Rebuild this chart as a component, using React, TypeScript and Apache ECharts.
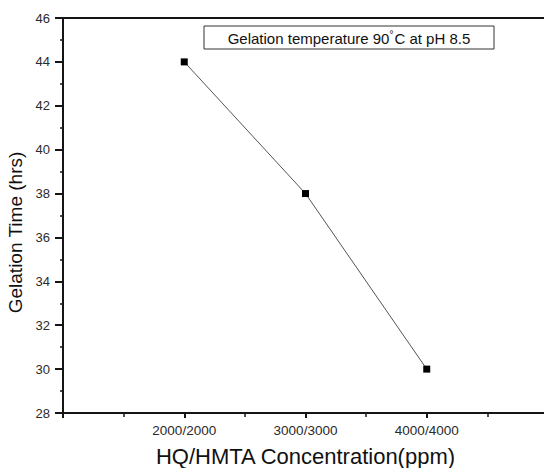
import React, { useEffect, useRef } from "react";
import * as echarts from "echarts";

const hq = [2000, 3000, 4000];
const gelationTime = [44, 38, 30];
const xLabeled = [2000, 3000, 4000];

export default function App() {
  const ref = useRef<HTMLDivElement>(null);
  useEffect(() => {
    if (!ref.current) return;
    const chart = echarts.init(ref.current, null, { renderer: "svg" });
    const font = "'Liberation Sans', Arial, sans-serif";
    chart.setOption({
      animation: false,
      backgroundColor: "#fff",
      grid: {
        left: 63,
        top: 18,
        right: -4,
        bottom: 55,
        containLabel: false,
        outerBoundsMode: "none",
        show: true,
        borderColor: "#151515",
        borderWidth: 2,
      },
      xAxis: {
        type: "value",
        min: 1000,
        max: 5000,
        interval: 1000,
        name: "HQ/HMTA Concentration(ppm)",
        nameLocation: "middle",
        nameGap: 32,
        nameTextStyle: { fontFamily: font, fontSize: 22, color: "#111" },
        axisLine: { show: true, onZero: false, lineStyle: { color: "#151515", width: 2 } },
        axisTick: { show: true, inside: false, length: 5, lineStyle: { color: "#151515", width: 2 } },
        minorTick: { show: true, splitNumber: 2, length: 4, lineStyle: { color: "#151515", width: 1.5 } },
        splitLine: { show: false },
        axisLabel: {
          fontFamily: font,
          fontSize: 13.5,
          color: "#2a2a2a",
          margin: 10,
          formatter: (v: number) => (xLabeled.includes(v) ? `${v}/${v}` : ""),
        },
      },
      yAxis: {
        type: "value",
        min: 28,
        max: 46,
        interval: 2,
        name: "Gelation Time (hrs)",
        nameLocation: "middle",
        nameGap: 38,
        nameTextStyle: { fontFamily: font, fontSize: 19, color: "#111", padding: [0, 34, 0, 0] },
        axisLine: { show: true, onZero: false, lineStyle: { color: "#151515", width: 2 } },
        axisTick: { show: true, inside: false, length: 8, lineStyle: { color: "#151515", width: 2 } },
        minorTick: { show: true, splitNumber: 2, length: 3, lineStyle: { color: "#151515", width: 1.5 } },
        splitLine: { show: false },
        axisLabel: { fontFamily: font, fontSize: 13, color: "#2a2a2a", margin: 13 },
      },
      series: [
        {
          type: "line",
          data: hq.map((x, i) => [x, gelationTime[i]]),
          symbol: "rect",
          symbolSize: 7,
          itemStyle: { color: "#000" },
          lineStyle: { color: "#555", width: 1 },
        },
      ],
      graphic: [
        {
          type: "rect",
          shape: { x: 204, y: 26, width: 290, height: 23 },
          style: { fill: "#fff", stroke: "#333", lineWidth: 1 },
          z: 100,
        },
        {
          type: "text",
          x: 349,
          y: 38,
          z: 101,
          style: {
            text: "Gelation temperature 90{s|°}C at pH 8.5",
            rich: { s: { fontSize: 10, verticalAlign: "top", fontFamily: font, fill: "#111", padding: [0, 1, 7, 0] } },
            fontFamily: font,
            fontSize: 15,
            fill: "#111",
            align: "center",
            verticalAlign: "middle",
          },
        },
      ],
    });
    return () => chart.dispose();
  }, []);
  return <div ref={ref} style={{ position: "absolute", left: 0, top: 0, width: 544, height: 468 }} />;
}
